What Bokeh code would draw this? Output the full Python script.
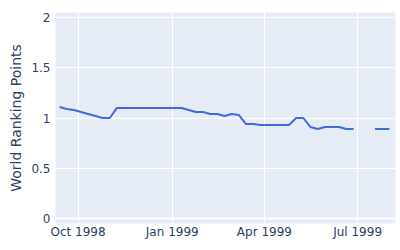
import numpy as np
import pandas as pd
from bokeh.plotting import figure
from bokeh.models import DatetimeTickFormatter, FixedTicker, Range1d, Span
from bokeh.embed import file_html
from bokeh.resources import INLINE

dates = ["1998-09-13", "1998-09-20", "1998-09-27", "1998-10-04", "1998-10-11",
         "1998-10-18", "1998-10-25", "1998-11-01", "1998-11-08", "1998-11-15",
         "1998-11-22", "1998-11-29", "1998-12-06", "1998-12-13", "1998-12-20",
         "1998-12-27", "1999-01-03", "1999-01-10", "1999-01-17", "1999-01-24",
         "1999-01-31", "1999-02-07", "1999-02-14", "1999-02-21", "1999-02-28",
         "1999-03-07", "1999-03-14", "1999-03-21", "1999-03-28", "1999-04-04",
         "1999-04-11", "1999-04-18", "1999-04-25", "1999-05-02", "1999-05-09",
         "1999-05-16", "1999-05-23", "1999-05-30", "1999-06-06", "1999-06-13",
         "1999-06-20", "1999-06-27", "1999-07-04", "1999-07-11", "1999-07-18",
         "1999-07-25", "1999-08-01"]
points = [1.11, 1.09, 1.08, 1.06, 1.04,
          1.02, 1.00, 1.00, 1.10, 1.10,
          1.10, 1.10, 1.10, 1.10, 1.10,
          1.10, 1.10, 1.10, 1.08, 1.06,
          1.06, 1.04, 1.04, 1.02, 1.04,
          1.03, 0.94, 0.94, 0.93, 0.93,
          0.93, 0.93, 0.93, 1.00, 1.00,
          0.91, 0.89, 0.91, 0.91, 0.91,
          0.89, 0.89, np.nan, np.nan, 0.89,
          0.89, 0.89]
tick_dates = ["1998-10-01", "1999-01-01", "1999-04-01", "1999-07-01"]
y_ticks = [0, 0.5, 1, 1.5, 2]

x = pd.to_datetime(dates)
tick_ms = [pd.Timestamp(d).value // 10**6 for d in tick_dates]

FONT = "DejaVu Sans"
TXT = "#2a3f5f"

p = figure(width=400, height=250, x_axis_type="datetime",
           output_backend="svg", toolbar_location=None,
           min_border_left=55, min_border_right=5,
           min_border_top=12, min_border_bottom=27)
p.x_range = Range1d(pd.Timestamp("1998-09-09"), pd.Timestamp("1999-08-07"))
p.y_range = Range1d(-0.05, 2.05)

p.background_fill_color = "#e5ecf6"
p.border_fill_color = "white"
p.outline_line_color = None

p.line(x, points, line_color="#4169e1", line_width=2)

p.xaxis.ticker = FixedTicker(ticks=tick_ms)
fmt = "%b %Y"
p.xaxis.formatter = DatetimeTickFormatter(
    milliseconds=fmt, seconds=fmt, minsec=fmt, minutes=fmt, hourmin=fmt,
    hours=fmt, days=fmt, months=fmt, years=fmt)
p.yaxis.ticker = FixedTicker(ticks=y_ticks)
p.yaxis.axis_label = "World Ranking Points"

for ax in (p.xaxis, p.yaxis):
    ax.axis_line_color = None
    ax.major_tick_line_color = None
    ax.minor_tick_line_color = None
    ax.major_tick_out = 0
    ax.major_tick_in = 0
    ax.minor_tick_out = 0
    ax.minor_tick_in = 0
    ax.major_label_text_font = FONT
    ax.major_label_text_font_size = "12px"
    ax.major_label_text_color = TXT
    ax.axis_label_text_font = FONT
    ax.axis_label_text_font_size = "14px"
    ax.axis_label_text_font_style = "normal"
    ax.axis_label_text_color = TXT
p.yaxis.major_label_standoff = 5
p.xaxis.major_label_standoff = 1
p.yaxis.axis_label_standoff = 4

p.xgrid.grid_line_color = "white"
p.ygrid.grid_line_color = "white"
p.xgrid.grid_line_width = 1
p.ygrid.grid_line_width = 1
p.add_layout(Span(location=0, dimension="width", line_color="white", line_width=2))

open("out.html", "w").write(file_html(p, INLINE))
